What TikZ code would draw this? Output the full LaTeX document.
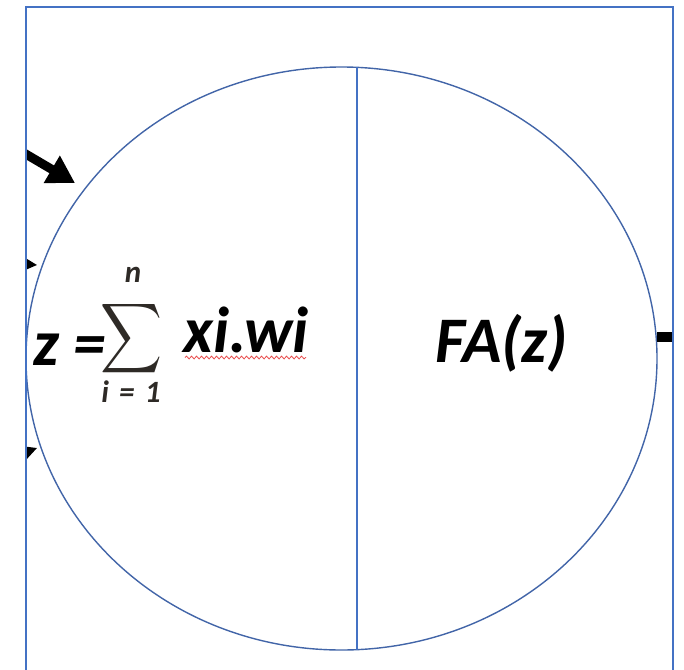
\documentclass[tikz,border=0pt]{standalone}
\usepackage{fontspec}
\setmainfont{Carlito}
\usepackage{graphicx}
\usepackage{tikz}
\usetikzlibrary{arrows.meta,decorations.pathmorphing}
\definecolor{neublue}{HTML}{4472C4}
\definecolor{neuedge}{HTML}{4265A8}
\definecolor{neuink}{HTML}{000000}
\definecolor{neured}{HTML}{E84A4A}
\definecolor{neuidxcol}{HTML}{2E2A26}
\tikzset{
  neuframe/.style={draw=neublue,line width=2pt},
  neucell/.style={draw=neuedge,line width=1.4pt},
  neudivide/.style={draw=neublue,line width=1.3pt},
  neutext/.style={font=\fontsize{65}{65}\selectfont\bfseries\itshape,
                  inner sep=0pt,text=neuink},
  neuidx/.style={font=\fontsize{31}{31}\selectfont\bfseries\itshape,
                 inner sep=0pt,text=neuidxcol},
  neusum/.style={inner sep=0pt,text=neuidxcol},
  neuinput/.style={-{Triangle[length=27pt,width=30pt]},line width=9pt,neuink},
  neuside/.style={-{Triangle[length=19pt,width=19pt]},line width=2pt,neuink},
  neuoutput/.style={line width=10pt,neuink},
  neuspell/.style={draw=neured,line width=0.8pt,
                   decorate,decoration={snake,segment length=5pt,amplitude=1.4pt}}
}

\begin{document}
\begin{tikzpicture}[x=1pt,y=-1pt]
  \useasboundingbox (0,0) rectangle (684,669);
  \clip (0,0) rectangle (684,669);

  \coordinate (fsw) at (26,690);
  \coordinate (fnw) at (26,7);
  \coordinate (fne) at (673,7);
  \coordinate (fse) at (673,690);

  \draw[neucell] (341.5,358.5) ellipse [x radius=315.5,y radius=291.5];
  \coordinate (divtop) at (357,67.3);
  \coordinate (divbot) at (357,649.7);
  \draw[neudivide] (divtop) -- (divbot);

  \node[neutext,anchor=base west] (zeq) at (33,365) {z =};
  \node[neusum] (sum) at (132,339)
    {\resizebox*{62pt}{78pt}{$\displaystyle\sum$}};
  \node[neuidx,anchor=base] (upper) at (133,282) {n};
  \node[neuidx,anchor=base] (lower) at (131,402) {i\,\,=\,\,1};
  \node[neutext,anchor=base west] (prod) at (183,352) {xi.wi};
  \node[neutext,anchor=base west] (fa) at (435,362) {FA(z)};

  \coordinate (spella) at (185,357.5);
  \coordinate (spellb) at (306,357.5);
  \draw[neuspell] (spella) -- (spellb);

  \begin{scope}
    \clip (fnw) rectangle (fse);
    \coordinate (in1) at (-10,133);
    \coordinate (tip1) at (75,183);
    \coordinate (in2) at (-20,261);
    \coordinate (tip2) at (37,265);
    \coordinate (in3) at (-20,469);
    \coordinate (tip3) at (37,448);
    \coordinate (out1) at (657,337);
    \coordinate (out2) at (700,337);
    \draw[neuinput] (in1) -- (tip1);
    \draw[neuside] (in2) -- (tip2);
    \draw[neuside] (in3) -- (tip3);
    \draw[neuoutput] (out1) -- (out2);
  \end{scope}

  \draw[neuframe] (fsw) -- (fnw) -- (fne) -- (fse);
\end{tikzpicture}
\end{document}
